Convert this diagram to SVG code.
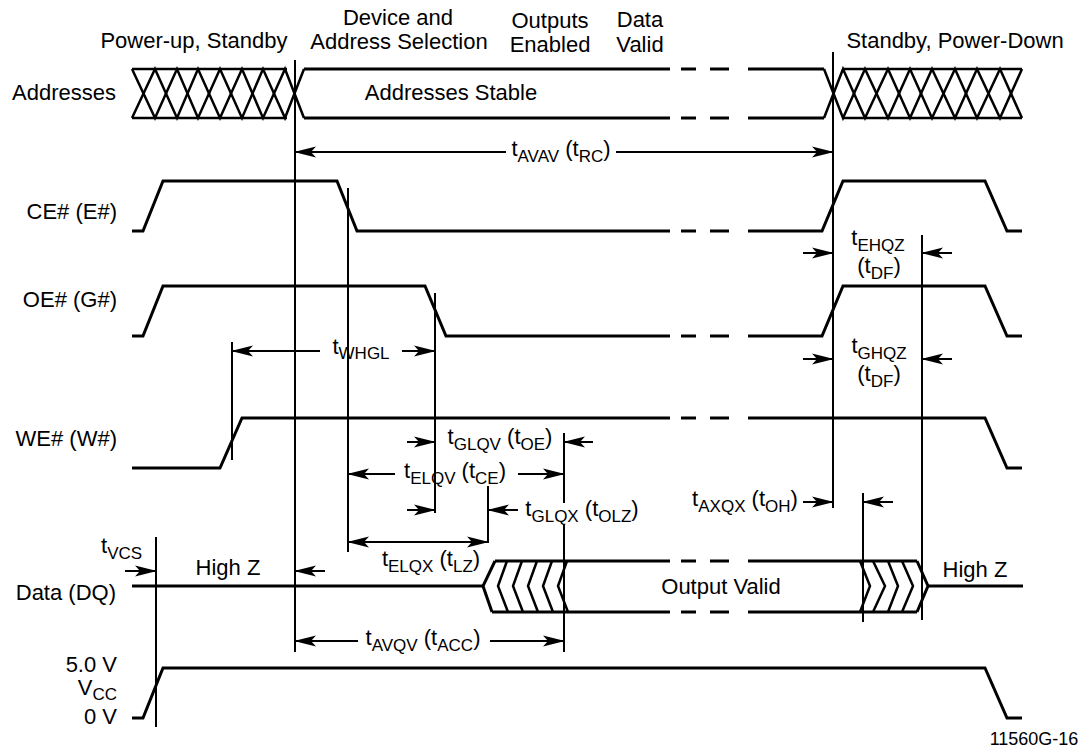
<svg xmlns="http://www.w3.org/2000/svg" width="1089" height="750" viewBox="0 0 1089 750">
<style>
text{font-family:"Liberation Sans",Arial,Helvetica,sans-serif;fill:#000}
.l{font-size:22px}
.s{font-size:17px}
.sm{font-size:18px}
.w{fill:none;stroke:#000;stroke-width:3;stroke-linejoin:miter}
.h{fill:none;stroke:#000;stroke-width:2.5}
.v{fill:none;stroke:#000;stroke-width:2}
.a{fill:none;stroke:#000;stroke-width:2;marker-end:url(#ah)}
.d{fill:none;stroke:#000;stroke-width:2;marker-start:url(#ah);marker-end:url(#ah)}
</style>
<defs>
<marker id="ah" markerUnits="userSpaceOnUse" viewBox="0 0 22 12" markerWidth="22" markerHeight="12" refX="21" refY="6" orient="auto-start-reverse">
<path d="M0,0.5 L22,6 L0,11.5 L5,6 Z" fill="#000"/>
</marker>
</defs>
<rect width="1089" height="750" fill="#fff"/>

<g id="headers">
<text class="l" x="194" y="48" text-anchor="middle">Power-up, Standby</text>
<text class="l" x="398" y="25" text-anchor="middle">Device and</text>
<text class="l" x="399" y="49" text-anchor="middle">Address Selection</text>
<text class="l" x="550" y="28" text-anchor="middle">Outputs</text>
<text class="l" x="550" y="52" text-anchor="middle">Enabled</text>
<text class="l" x="640" y="27" text-anchor="middle">Data</text>
<text class="l" x="640" y="52" text-anchor="middle">Valid</text>
<text class="l" x="955" y="48" text-anchor="middle">Standby, Power-Down</text>
</g>

<g id="labels">
<text class="l" x="116" y="100" text-anchor="end">Addresses</text>
<text class="l" x="117" y="219" text-anchor="end">CE# (E#)</text>
<text class="l" x="117" y="307" text-anchor="end">OE# (G#)</text>
<text class="l" x="117" y="446" text-anchor="end">WE# (W#)</text>
<text class="l" x="116" y="600" text-anchor="end">Data (DQ)</text>
<text class="l" x="117" y="672" text-anchor="end">5.0 V</text>
<text class="l" x="117" y="695" text-anchor="end">V<tspan class="s" dy="5">CC</tspan></text>
<text class="l" x="117" y="724" text-anchor="end">0 V</text>
<text class="sm" x="1034" y="745" text-anchor="middle">11560G-16</text>
</g>

<g id="addresses">
<path class="h" d="M132,69 H287 M132,118 H287"/>
<polyline class="h" points="132,69 155,118 177,69 198,118 220,69 242,118 263,69 285,118 304,69"/>
<polyline class="h" points="132,118 155,69 177,118 198,69 220,118 242,69 263,118 285,69 304,118"/>
<path class="w" d="M304,69 H670 M681,69 H696 M710,69 H729 M748,69 H824 M304,118 H670 M681,118 H696 M710,118 H729 M748,118 H824"/>
<polyline class="h" points="824,69 843,118 865,69 888,118 910,69 932,118 955,69 977,118 1000,69 1022,118"/>
<polyline class="h" points="824,118 843,69 865,118 888,69 910,118 932,69 955,118 977,69 1000,118 1022,69"/>
<path class="h" d="M843,69 H1022 M843,118 H1022"/>
<text class="l" x="451" y="100" text-anchor="middle">Addresses Stable</text>
</g>

<g id="ce">
<polyline class="w" points="132,231 143,231 163,181 337,181 357,231 670,231"/>
<path class="w" d="M681,231 H696 M710,231 H729"/>
<polyline class="w" points="748,231 822,231 843,181 985,181 1007,231 1022,231"/>
</g>

<g id="oe">
<polyline class="w" points="132,336 143,336 163,286 425,286 446,336 670,336"/>
<path class="w" d="M681,336 H696 M710,336 H729"/>
<polyline class="w" points="748,336 822,336 843,286 985,286 1007,336 1022,336"/>
</g>

<g id="we">
<polyline class="w" points="132,468 220,468 242,418 670,418"/>
<path class="w" d="M681,418 H696 M710,418 H729"/>
<polyline class="w" points="748,418 985,418 1007,468 1022,468"/>
</g>

<g id="data">
<path class="w" d="M132,586 H483"/>
<polyline class="w" points="495,561 483,586 492,612"/>
<path class="w" d="M495,561 H670 M681,561 H696 M710,561 H729 M748,561 H917 M492,612 H670 M681,612 H696 M710,612 H729 M748,612 H917"/>
<path class="h" d="M507,561 L498,586 L508,612 M522,561 L513,586 L523,612 M537,561 L528,586 L538,612 M552,561 L543,586 L553,612 M567,561 L558,586 L568,612"/>
<path class="h" d="M860,561 L870,586 L860,612 M873,561 L885,586 L873,612 M888,561 L898,586 L888,612 M902,561 L913,586 L902,612"/>
<polyline class="w" points="917,561 928,586 917,612"/>
<path class="w" d="M928,586 H1023"/>
<text class="l" x="721" y="594" text-anchor="middle">Output Valid</text>
<text class="l" x="228" y="575" text-anchor="middle">High Z</text>
<text class="l" x="975" y="577" text-anchor="middle">High Z</text>
</g>

<g id="vcc">
<polyline class="w" points="132,718 143,718 163,668 985,668 1007,718 1022,718"/>
</g>

<g id="connectors">
<path class="v" d="M295,60 V652 M833,52 V508 M156,537 V727 M348,188 V552 M435,293 V513 M232,342 V460 M488,486 V543 M564,433 V503 M564,524 V652 M863,493 V622 M922,235 V620"/>
<path class="a" d="M506,152 H295"/>
<path class="a" d="M616,152 H833"/>
<path class="a" d="M320,351 H232"/>
<path class="a" d="M402,351 H435"/>
<path class="a" d="M407,442 H435"/>
<path class="a" d="M593,442 H564"/>
<path class="a" d="M395,474 H348"/>
<path class="a" d="M518,474 H564"/>
<path class="a" d="M407,510 H435"/>
<path class="a" d="M518,510 H488"/>
<path class="d" d="M348,542 H488"/>
<path class="a" d="M125,571 H156"/>
<path class="a" d="M325,571 H295"/>
<path class="a" d="M358,641 H295"/>
<path class="a" d="M490,641 H564"/>
<path class="a" d="M803,502 H833"/>
<path class="a" d="M893,502 H863"/>
<path class="a" d="M803,253 H833"/>
<path class="a" d="M952,253 H922"/>
<path class="a" d="M803,359 H833"/>
<path class="a" d="M952,359 H922"/>
</g>

<g id="timing-labels">
<text class="l" x="561" y="156" text-anchor="middle">t<tspan class="s" dy="6">AVAV</tspan><tspan dy="-6"> (t</tspan><tspan class="s" dy="6">RC</tspan><tspan dy="-6">)</tspan></text>
<text class="l" x="361" y="354" text-anchor="middle">t<tspan class="s" dy="5">WHGL</tspan></text>
<text class="l" x="500" y="444" text-anchor="middle">t<tspan class="s" dy="6">GLQV</tspan><tspan dy="-6"> (t</tspan><tspan class="s" dy="6">OE</tspan><tspan dy="-6">)</tspan></text>
<text class="l" x="455" y="478" text-anchor="middle">t<tspan class="s" dy="6">ELQV</tspan><tspan dy="-6"> (t</tspan><tspan class="s" dy="6">CE</tspan><tspan dy="-6">)</tspan></text>
<text class="l" x="582" y="516" text-anchor="middle">t<tspan class="s" dy="6">GLQX</tspan><tspan dy="-6"> (t</tspan><tspan class="s" dy="6">OLZ</tspan><tspan dy="-6">)</tspan></text>
<text class="l" x="431" y="566" text-anchor="middle">t<tspan class="s" dy="6">ELQX</tspan><tspan dy="-6"> (t</tspan><tspan class="s" dy="6">LZ</tspan><tspan dy="-6">)</tspan></text>
<text class="l" x="101" y="553">t<tspan class="s" dy="6">VCS</tspan></text>
<text class="l" x="423" y="645" text-anchor="middle">t<tspan class="s" dy="6">AVQV</tspan><tspan dy="-6"> (t</tspan><tspan class="s" dy="6">ACC</tspan><tspan dy="-6">)</tspan></text>
<text class="l" x="745" y="506" text-anchor="middle">t<tspan class="s" dy="6">AXQX</tspan><tspan dy="-6"> (t</tspan><tspan class="s" dy="6">OH</tspan><tspan dy="-6">)</tspan></text>
<text class="l" x="878" y="245" text-anchor="middle">t<tspan class="s" dy="6">EHQZ</tspan></text>
<text class="l" x="879" y="273" text-anchor="middle">(t<tspan class="s" dy="6">DF</tspan><tspan dy="-6">)</tspan></text>
<text class="l" x="879" y="353" text-anchor="middle">t<tspan class="s" dy="6">GHQZ</tspan></text>
<text class="l" x="879" y="381" text-anchor="middle">(t<tspan class="s" dy="6">DF</tspan><tspan dy="-6">)</tspan></text>
</g>
</svg>
